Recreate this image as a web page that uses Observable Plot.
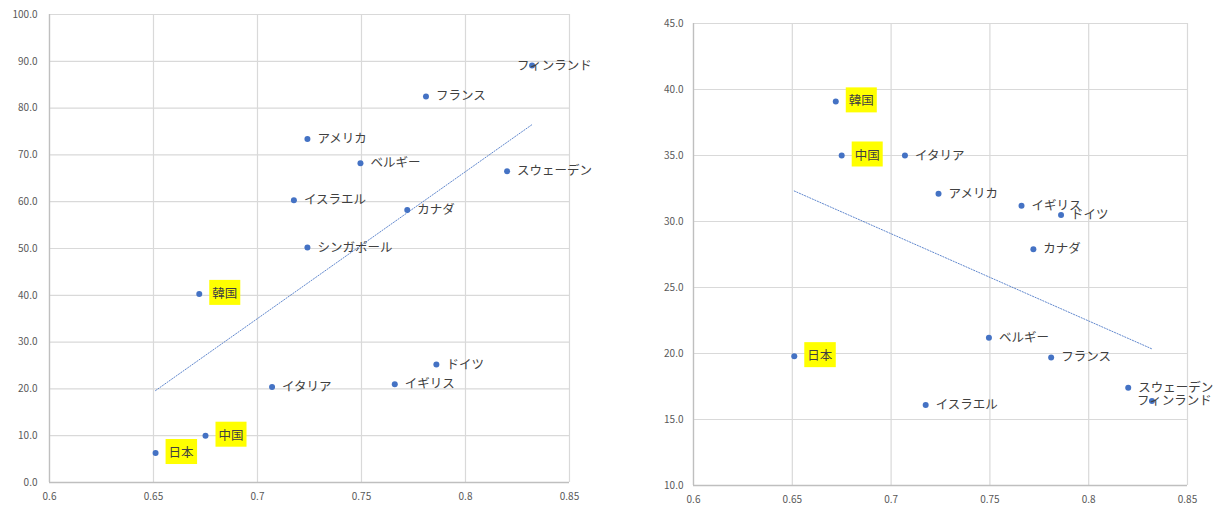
<!DOCTYPE html>
<html>
<head>
<meta charset="utf-8">
<script src="https://cdn.jsdelivr.net/npm/d3@7"></script>
<script src="https://cdn.jsdelivr.net/npm/@observablehq/plot@0.6"></script>
<style>
  html, body { margin: 0; padding: 0; background: #fff; }
  #wrap { display: flex; width: 1222px; height: 509px; }
  #wrap > div { flex: none; }
  svg { overflow: visible; }
</style>
</head>
<body>
<div id="wrap"><div id="left"></div><div id="right"></div></div>
<script>
// ---- data ----
const leftNames  = ["日本", "中国", "韓国", "イタリア", "アメリカ", "ベルギー", "イスラエル", "カナダ", "シンガポール", "フランス", "フィンランド", "スウェーデン", "ドイツ", "イギリス"];
const leftX      = [0.651, 0.675, 0.672, 0.707, 0.724, 0.7495, 0.7175, 0.772, 0.724, 0.781, 0.832, 0.820, 0.786, 0.766];
const leftY      = [6.3, 10.0, 40.3, 20.4, 73.4, 68.2, 60.3, 58.2, 50.2, 82.5, 89.1, 66.5, 25.2, 21.0];

const rightNames = ["日本", "中国", "韓国", "イタリア", "アメリカ", "ベルギー", "イスラエル", "カナダ", "フランス", "フィンランド", "スウェーデン", "ドイツ", "イギリス"];
const rightX     = [0.651, 0.675, 0.672, 0.707, 0.724, 0.7495, 0.7175, 0.772, 0.781, 0.832, 0.820, 0.786, 0.766];
const rightY     = [19.8, 35.0, 39.1, 35.0, 32.1, 21.2, 16.1, 27.9, 19.7, 16.4, 17.4, 30.5, 31.2];

const highlighted = ["日本", "中国", "韓国"];

const xTicks      = [0.6, 0.65, 0.7, 0.75, 0.8, 0.85];
const leftYTicks  = [0, 10, 20, 30, 40, 50, 60, 70, 80, 90, 100];
const rightYTicks = [10, 15, 20, 25, 30, 35, 40, 45];

// ---- helpers ----
const FONT = "'Noto Sans CJK JP', 'Noto Sans', sans-serif";
const BLUE = "#4472C4";

function rows(names, xs, ys) {
  return names.map((n, i) => ({ name: n, x: xs[i], y: ys[i] }));
}

function chart(data, yTicks, dims) {
  const normal = data.filter(d => d.name !== "フィンランド");
  const shifted = data.filter(d => d.name === "フィンランド");
  const labelOpts = { x: "x", y: "y", text: "name", textAnchor: "start", fill: "#404040", fontSize: 12.5, fontFamily: FONT };
  return Plot.plot({
    width: dims.width, height: 509,
    marginLeft: dims.ml, marginRight: dims.mr, marginTop: dims.mt, marginBottom: dims.mb,
    style: { fontFamily: FONT, background: "white" },
    x: { domain: [xTicks[0], xTicks[xTicks.length - 1]] },
    y: { domain: [yTicks[0], yTicks[yTicks.length - 1]] },
    marks: [
      Plot.gridX(xTicks, { stroke: "#d9d9d9", strokeOpacity: 1, strokeWidth: 1.2 }),
      Plot.gridY(yTicks, { stroke: "#d9d9d9", strokeOpacity: 1, strokeWidth: 1.2 }),
      Plot.ruleX([xTicks[0]], { stroke: "#bfbfbf", strokeWidth: 1.3 }),
      Plot.ruleY([yTicks[0]], { stroke: "#bfbfbf", strokeWidth: 1.3 }),
      Plot.axisX(xTicks, { tickSize: 0, tickPadding: 10, fill: "#595959", fontSize: 10, tickFormat: d => String(d), label: null }),
      Plot.axisY(yTicks, { tickSize: 0, tickPadding: dims.typ, fill: "#595959", fontSize: 10, tickFormat: d => d.toFixed(1), label: null }),
      Plot.linearRegressionY(data, { x: "x", y: "y", ci: 0, stroke: BLUE, strokeWidth: 1, strokeDasharray: "1.2 1.6", strokeOpacity: 0.85 }),
      Plot.dot(data, { x: "x", y: "y", r: 3, fill: BLUE, stroke: "none" }),
      Plot.text(normal.filter(d => highlighted.includes(d.name)), { ...labelOpts, dx: 13, className: "hl" }),
      Plot.text(normal.filter(d => !highlighted.includes(d.name)), { ...labelOpts, dx: 10 }),
      Plot.text(shifted, { ...labelOpts, dx: -15 })
    ]
  });
}

function addBoxes(svg) {
  svg.querySelectorAll("g.hl text").forEach(t => {
    const b = t.getBBox();
    const r = document.createElementNS("http://www.w3.org/2000/svg", "rect");
    r.setAttribute("x", b.x - 3);
    r.setAttribute("y", b.y - 3);
    r.setAttribute("width", b.width + 6);
    r.setAttribute("height", b.height + 6);
    r.setAttribute("fill", "#FFFF00");
    const tr = t.getAttribute("transform");
    if (tr) r.setAttribute("transform", tr);
    t.parentNode.insertBefore(r, t);
  });
}

const left = chart(rows(leftNames, leftX, leftY), leftYTicks, { width: 611, ml: 49, mr: 42, mt: 14, mb: 27, typ: 12 });
document.getElementById("left").append(left);
addBoxes(left);

const right = chart(rows(rightNames, rightX, rightY), rightYTicks, { width: 611, ml: 82, mr: 35, mt: 23, mb: 24, typ: 10 });
document.getElementById("right").append(right);
addBoxes(right);
</script>
</body>
</html>
